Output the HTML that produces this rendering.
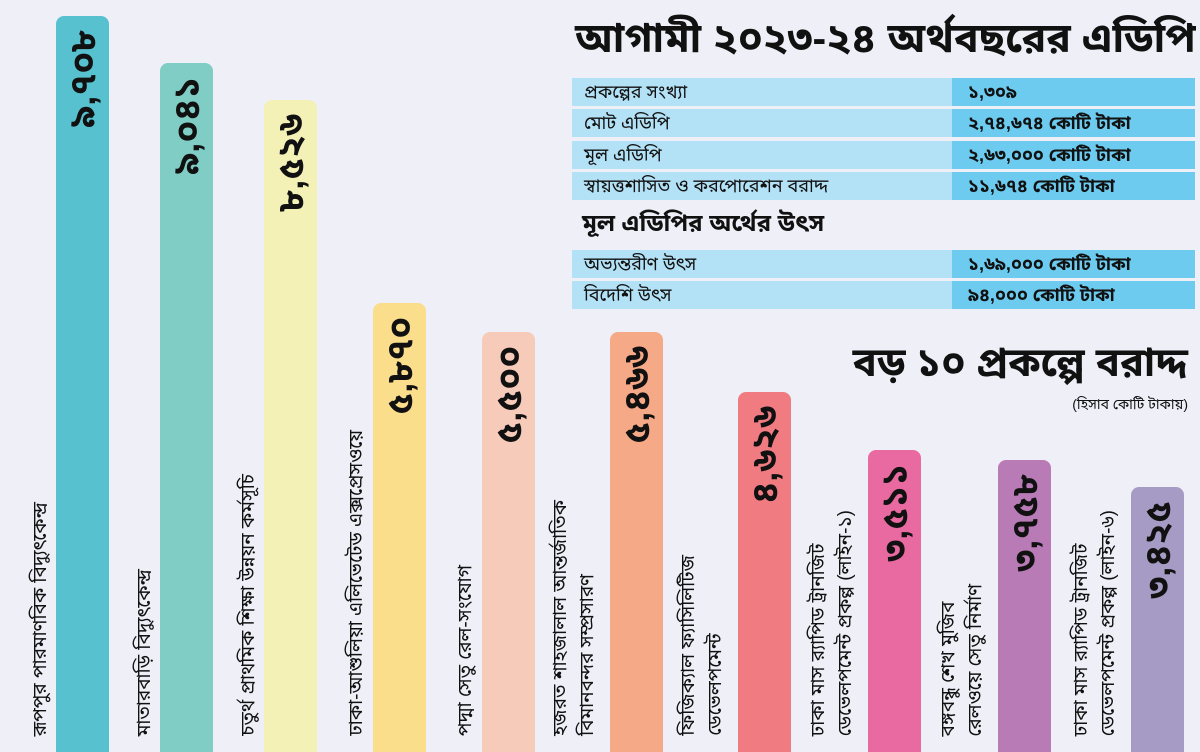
<!DOCTYPE html>
<html><head><meta charset="utf-8"><style>
*{margin:0;padding:0;box-sizing:border-box}
body{width:1200px;height:742px;overflow:hidden;background:#efeff8;font-family:"Liberation Sans","Noto Sans Bengali","Lohit Bengali",sans-serif;position:relative;color:#111}
.bar{position:absolute;bottom:-10px;width:53px;border-radius:8px 8px 0 0}
.num{position:absolute;writing-mode:vertical-rl;transform:rotate(180deg);font-weight:bold;font-size:36px;line-height:53px;width:53px;text-align:left}
.lab{position:absolute;bottom:6px;writing-mode:vertical-rl;transform:rotate(180deg);font-size:19px;line-height:27px;white-space:nowrap}
.row{position:absolute;left:572px;width:623px;height:28px;font-size:18px;line-height:28px}
.row .l{position:absolute;left:0;top:0;width:380px;height:28px;background:#b3e1f5;padding-left:12px}
.row .r{position:absolute;left:380px;top:0;width:243px;height:28px;background:#6ccbef;padding-left:16px;font-weight:bold}
</style></head><body>
<div style="position:absolute;left:575px;top:14px;width:625px;font-size:41px;font-weight:bold;white-space:nowrap">আগামী ২০২৩-২৪ অর্থবছরের এডিপি</div>
<div class="row" style="top:78px"><div class="l">প্রকল্পের সংখ্যা</div><div class="r">১,৩০৯</div></div>
<div class="row" style="top:109px"><div class="l">মোট এডিপি</div><div class="r">২,৭৪,৬৭৪ কোটি টাকা</div></div>
<div class="row" style="top:141px"><div class="l">মূল এডিপি</div><div class="r">২,৬৩,০০০ কোটি টাকা</div></div>
<div class="row" style="top:172px"><div class="l">স্বায়ত্তশাসিত ও করপোরেশন বরাদ্দ</div><div class="r">১১,৬৭৪ কোটি টাকা</div></div>
<div style="position:absolute;left:582px;top:209px;font-size:24px;font-weight:bold;white-space:nowrap">মূল এডিপির অর্থের উৎস</div>
<div class="row" style="top:250px"><div class="l">অভ্যন্তরীণ উৎস</div><div class="r">১,৬৯,০০০ কোটি টাকা</div></div>
<div class="row" style="top:281px"><div class="l">বিদেশি উৎস</div><div class="r">৯৪,০০০ কোটি টাকা</div></div>
<div style="position:absolute;right:12px;top:340px;font-size:40px;font-weight:bold;white-space:nowrap">বড় ১০ প্রকল্পে বরাদ্দ</div>
<div style="position:absolute;right:12px;top:396px;font-size:14px;white-space:nowrap">(হিসাব কোটি টাকায়)</div>

<div class="bar" style="left:56px;top:16px;background:#57c1cf"></div>
<div class="num" style="left:56px;top:30px">৯,৭০৮</div>
<div class="lab" style="left:27px">রূপপুর পারমাণবিক বিদ্যুৎকেন্দ্র</div>

<div class="bar" style="left:160px;top:63px;background:#80cdc6"></div>
<div class="num" style="left:160px;top:77px">৯,০৪১</div>
<div class="lab" style="left:131px">মাতারবাড়ি বিদ্যুৎকেন্দ্র</div>

<div class="bar" style="left:264px;top:100px;background:#f3f1b6"></div>
<div class="num" style="left:264px;top:114px">৮,৫২৬</div>
<div class="lab" style="left:235px">চতুর্থ প্রাথমিক শিক্ষা উন্নয়ন কর্মসূচি</div>

<div class="bar" style="left:373px;top:303px;background:#fbde8b"></div>
<div class="num" style="left:373px;top:317px">৫,৮৭০</div>
<div class="lab" style="left:343px">ঢাকা-আশুলিয়া এলিভেটেড এক্সপ্রেসওয়ে</div>

<div class="bar" style="left:482px;top:332px;background:#f6cbb9"></div>
<div class="num" style="left:482px;top:346px">৫,৫০০</div>
<div class="lab" style="left:452px">পদ্মা সেতু রেল-সংযোগ</div>

<div class="bar" style="left:610px;top:332px;background:#f6a986"></div>
<div class="num" style="left:610px;top:346px">৫,৪৬৬</div>
<div class="lab" style="left:547px">হজরত শাহজালাল আন্তর্জাতিক<br>বিমানবন্দর সম্প্রসারণ</div>

<div class="bar" style="left:738px;top:392px;background:#f07c81"></div>
<div class="num" style="left:738px;top:406px">৪,৬২৬</div>
<div class="lab" style="left:675px">ফিজিক্যাল ফ্যাসিলিটিজ<br>ডেভেলপমেন্ট</div>

<div class="bar" style="left:868px;top:450px;background:#e96aa0"></div>
<div class="num" style="left:868px;top:464px">৩,৫১১</div>
<div class="lab" style="left:805px">ঢাকা মাস র‍্যাপিড ট্রানজিট<br>ডেভেলপমেন্ট প্রকল্প (লাইন-১)</div>

<div class="bar" style="left:998px;top:460px;background:#b87bb6"></div>
<div class="num" style="left:998px;top:474px">৩,৭৫৮</div>
<div class="lab" style="left:935px">বঙ্গবন্ধু শেখ মুজিব<br>রেলওয়ে সেতু নির্মাণ</div>

<div class="bar" style="left:1131px;top:487px;background:#a69bc4"></div>
<div class="num" style="left:1131px;top:501px">৩,৪২৫</div>
<div class="lab" style="left:1068px">ঢাকা মাস র‍্যাপিড ট্রানজিট<br>ডেভেলপমেন্ট প্রকল্প (লাইন-৬)</div>
</body></html>
